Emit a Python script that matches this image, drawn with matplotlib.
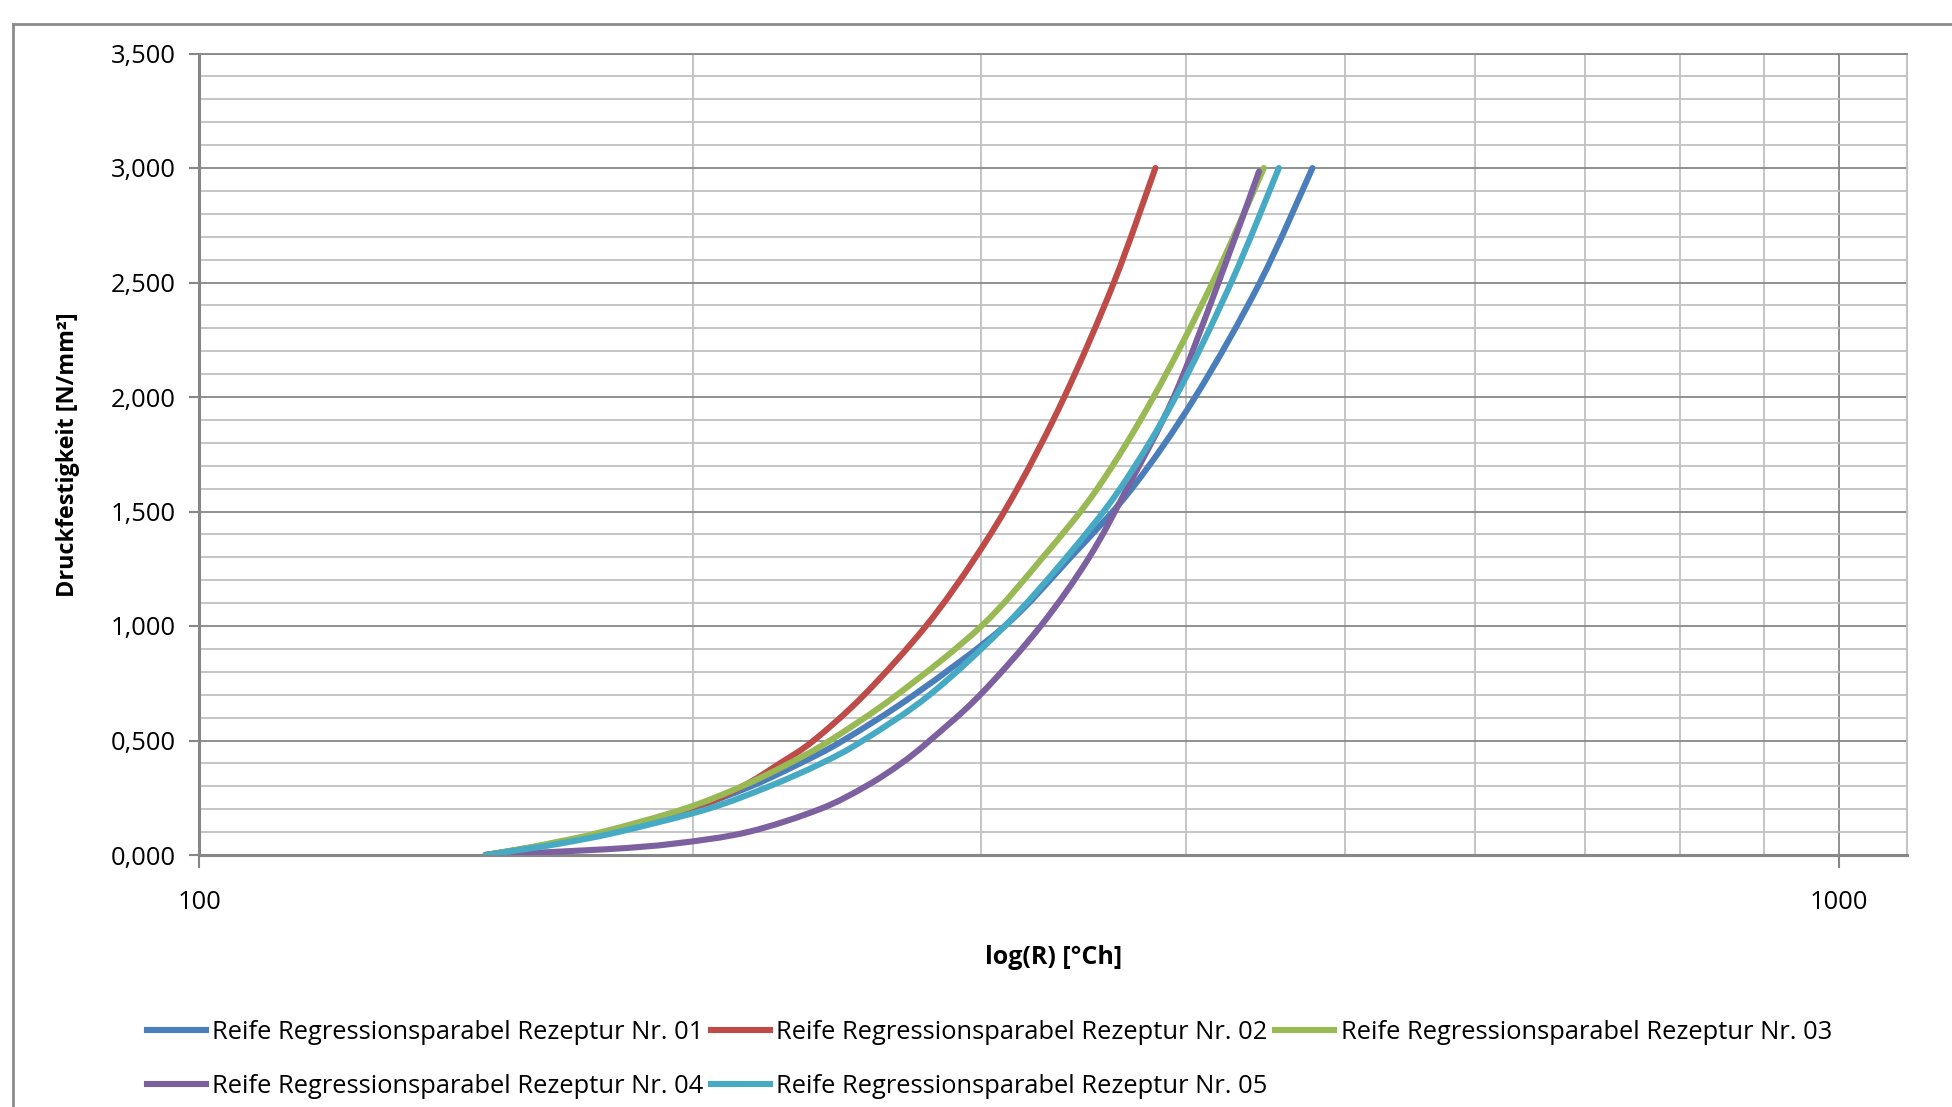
# Reife / Druckfestigkeit - Regressionsparabeln Rezeptur 01-05
import numpy as np
import matplotlib.pyplot as plt
import matplotlib.ticker as ticker
from matplotlib.lines import Line2D
from matplotlib.path import Path
from matplotlib.patches import PathPatch

plt.rcParams['font.family'] = ['Open Sans', 'DejaVu Sans']

# Druckfestigkeit [N/mm²] levels, read along the grid
strength = [0, 0.025, 0.05, 0.1, 0.2, 0.3, 0.4, 0.5, 0.7, 1.0, 1.3, 1.6, 2.0, 2.5, 3.0]
strength_04 = strength[:-1] + [2.985]

# Reife R [°Ch] at which each curve reaches those levels
reife_01 = [149.5, 157, 164, 177.5, 199, 217, 232.5, 247, 273, 310, 340, 370.5, 405, 443.5, 477.5]
reife_02 = [149.5, 157.5, 164.5, 177, 199.5, 214.5, 226, 237, 254.5, 277.5, 297.5, 315.5, 337, 361.3, 383]
reife_03 = [149.5, 156.8, 163.5, 176, 197.3, 214.3, 229, 242.5, 266.5, 300, 327, 353, 382, 415, 446]
reife_04 = [149.5, 177, 195, 216, 239, 255, 268, 279, 299.5, 326, 349, 368, 393, 418.5, 443]
reife_05 = [149.5, 157.8, 166, 180, 204, 222.7, 239.5, 254, 279, 310, 338, 364.5, 394, 426, 455.5]

LABELS = ['Reife Regressionsparabel Rezeptur Nr. 01',
          'Reife Regressionsparabel Rezeptur Nr. 02',
          'Reife Regressionsparabel Rezeptur Nr. 03',
          'Reife Regressionsparabel Rezeptur Nr. 04',
          'Reife Regressionsparabel Rezeptur Nr. 05']
COLOURS = ['#4A7EBB', '#BE4B48', '#98B954', '#7D60A0', '#46AAC5']

MAJOR_GRID = '#878787'
MINOR_GRID = '#C0C0C0'
FS = 18.4
LW = 4.4


def smooth_path(x, y):
    # Excel-style smoothed line: Catmull-Rom segments as cubic Beziers,
    # built in (log x, y) so it follows the log axis
    lx = np.log10(x)
    p = np.column_stack([lx, y])
    ext = np.vstack([p[0], p, p[-1]])
    verts = [p[0]]
    codes = [Path.MOVETO]
    for i in range(1, len(ext) - 2):
        p0, p1, p2, p3 = ext[i - 1], ext[i], ext[i + 1], ext[i + 2]
        c1 = p1 + (p2 - p0) / 6
        c2 = p2 - (p3 - p1) / 6
        verts += [c1, c2, p2]
        codes += [Path.CURVE4] * 3
    verts = np.array(verts)
    verts[:, 0] = 10 ** verts[:, 0]
    return Path(verts, codes)


fig = plt.figure(figsize=(19.52, 11.07), dpi=100)
ax = fig.add_axes([199.2 / 1952, 1 - 855 / 1107, (1907 - 199.2) / 1952, (855 - 53.5) / 1107])

series = [(reife_01, strength), (reife_02, strength), (reife_03, strength),
          (reife_04, strength_04), (reife_05, strength)]
handles = []
for (x, y), c, lab in zip(series, COLOURS, LABELS):
    ax.add_patch(PathPatch(smooth_path(x, y), fill=False, edgecolor=c, lw=LW,
                           capstyle='round', joinstyle='round', zorder=3))
    handles.append(Line2D([], [], color=c, lw=LW, label=lab))

ax.set_xscale('log')
ax.set_xlim(100, 1100.5)
ax.set_ylim(0, 3.5)

ax.xaxis.set_major_locator(ticker.FixedLocator([100, 1000]))
ax.xaxis.set_major_formatter(ticker.FixedFormatter(['100', '1000']))
ax.xaxis.set_minor_locator(ticker.LogLocator(base=10, subs=range(2, 10)))
ax.xaxis.set_minor_formatter(ticker.NullFormatter())
ax.yaxis.set_major_locator(ticker.MultipleLocator(0.5))
ax.yaxis.set_minor_locator(ticker.MultipleLocator(0.1))
ax.yaxis.set_major_formatter(ticker.FuncFormatter(lambda v, p: f"{v:.3f}".replace('.', ',')))

ax.grid(which='major', color=MAJOR_GRID, lw=1.3, zorder=1)
ax.grid(which='minor', color=MINOR_GRID, lw=1.3, zorder=0)
ax.set_axisbelow(True)

ax.tick_params(axis='both', which='minor', length=0)
ax.tick_params(axis='y', which='major', direction='out', length=7, width=1.5,
               color=MAJOR_GRID, pad=10, labelsize=FS)
ax.tick_params(axis='x', which='major', direction='out', length=9, width=1.5,
               color=MAJOR_GRID, pad=16, labelsize=FS)

for side in ['left', 'bottom']:
    ax.spines[side].set_color(MAJOR_GRID)
    ax.spines[side].set_linewidth(2.2)
ax.spines['top'].set_color(MAJOR_GRID)
ax.spines['top'].set_linewidth(1.3)
ax.spines['right'].set_color(MINOR_GRID)
ax.spines['right'].set_linewidth(1.3)

ax.set_xlabel('log(R) [°Ch]', fontsize=18, fontweight='bold')
ax.xaxis.label.set_va('center')
ax.xaxis.set_label_coords(0.5, -(957 - 855) / 801.5)
ax.set_ylabel('Druckfestigkeit [N/mm²]', fontsize=16.8, fontweight='bold')
ax.yaxis.label.set_va('center')
ax.yaxis.set_label_coords((68 - 199.2) / 1707.8, 0.5)

# legend filled column-wise: 01/04, 02/05, 03
order = [0, 3, 1, 4, 2]
fig.legend([handles[i] for i in order], [LABELS[i] for i in order], ncol=3,
           loc='upper left', bbox_to_anchor=(147 / 1952, 1 - 1020 / 1107),
           frameon=False, fontsize=FS, handlelength=2.3, handletextpad=0.25,
           columnspacing=0.3, labelspacing=1.15, borderpad=0, borderaxespad=0)

# outer chart frame (cropped on right and bottom)
fig.add_artist(Line2D([12.5 / 1952, 12.5 / 1952], [0, 1 - 23.7 / 1107],
                      transform=fig.transFigure, color='#8C8C8C', lw=2))
fig.add_artist(Line2D([12.5 / 1952, 1], [1 - 23.7 / 1107, 1 - 23.7 / 1107],
                      transform=fig.transFigure, color='#8C8C8C', lw=2))

fig.savefig('out.png', dpi=100)
